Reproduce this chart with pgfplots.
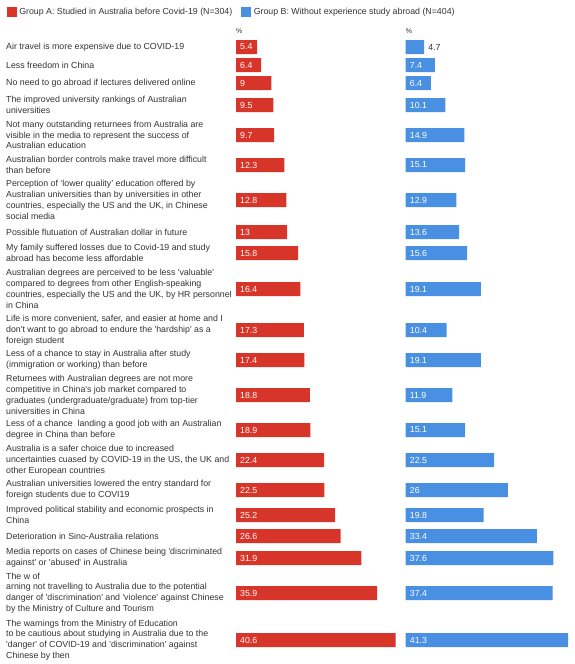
\documentclass[border=0pt]{standalone}
\usepackage{pgfplots}
\usepackage{pgfplotstable}
\pgfplotsset{compat=1.18}
\usepackage{fontspec}
\setmainfont{Liberation Sans}

\definecolor{redA}{HTML}{D7342A}
\definecolor{blueB}{HTML}{4A90E2}
\definecolor{txt}{HTML}{333333}
\newcommand{\q}{\textquotesingle}

% y = vertical position of each row (bp from the top), a = Group A (%), b = Group B (%)
\pgfplotstableread{
y    a     b
-47  5.4   4.7
-65  6.4   7.4
-83  9     6.4
-105 9.5   10.1
-135 9.7   14.9
-165 12.3  15.1
-200 12.8  12.9
-232 13    13.6
-253 15.8  15.6
-289 16.4  19.1
-330 17.3  10.4
-360 17.4  19.1
-395 18.8  11.9
-430 18.9  15.1
-460 22.4  22.5
-490 22.5  26
-515 25.2  19.8
-536 26.6  33.4
-558 31.9  37.6
-593 35.9  37.4
-640 40.6  41.3
}\datatab

\pgfplotsset{
  reasons/.style={
    scale only axis, height=664bp,
    ymin=-664, ymax=0, xmin=0,
    enlargelimits=false, clip=false,
    axis line style={draw=none}, major tick length=0pt,
    xtick=\empty,
    /pgf/number format/assume math mode=true,
    title={\%},
    title style={at={(axis description cs:0,1)}, anchor=west, yshift=-37bp,
      inner sep=0pt, font=\fontsize{7bp}{8bp}\selectfont, text=txt},
  },
  inbar/.style={draw=none, forget plot, nodes near coords, point meta=explicit,
    nodes near coords style={anchor=west, inner sep=0pt, xshift=4bp, text=white,
      font=\fontsize{8.8bp}{10bp}\selectfont}},
}

\begin{document}
\begin{tikzpicture}
\path[use as bounding box] (0,0) rectangle (575bp,-664bp);

% Group A
\begin{axis}[reasons,
  at={(236bp,0)}, anchor=north west,
  width=165.06bp, xmax=42,
  ytick=data,
  yticklabels={
    {Air travel is more expensive due to COVID-19},
    {Less freedom in China},
    {No need to go abroad if lectures delivered online},
    {The improved university rankings of Australian\\universities},
    {Not many outstanding returnees from Australia are\\visible in the media to represent the success of\\Australian education},
    {Australian border controls make travel more difficult\\than before},
    {Perception of ‘lower quality’ education offered by\\Australian universities than by universities in other\\countries, especially the US and the UK, in Chinese\\social media},
    {Possible flutuation of Australian dollar in future},
    {My family suffered losses due to Covid-19 and study\\abroad has become less affordable},
    {Australian degrees are perceived to be less \q valuable\q\\compared to degrees from other English-speaking\\countries, especially the US and the UK, by HR personnel\\in China},
    {Life is more convenient, safer, and easier at home and I\\don\q t want to go abroad to endure the \q hardship\q{} as a\\foreign student},
    {Less of a chance to stay in Australia after study\\(immigration or working) than before},
    {Returnees with Australian degrees are not more\\competitive in China\q s job market compared to\\graduates (undergraduate/graduate) from top-tier\\universities in China},
    {Less of a chance~ landing a good job with an Australian\\degree in China than before},
    {Australia is a safer choice due to increased\\uncertainties cuased by COVID-19 in the US, the UK and\\other European countries},
    {Australian universities lowered the entry standard for\\foreign students due to COVI19},
    {Improved political stability and economic prospects in\\China},
    {Deterioration in Sino-Australia relations},
    {Media reports on cases of Chinese being \q discriminated\\against\q{} or \q abused\q{} in Australia},
    {The w of\\arning not travelling to Australia due to the potential\\danger of \q discrimination\q{} and \q violence\q{} against Chinese\\by the Ministry of Culture and Tourism},
    {The warnings from the Ministry of Education\\to be cautious about studying in Australia due to the\\\q danger\q{} of COVID-19 and \q discrimination\q{} against\\Chinese by then},
  },
  yticklabel style={anchor=west, xshift=-230bp, align=left, inner sep=0pt,
    font=\fontsize{8.8bp}{10.8bp}\selectfont, text=txt},
  legend columns=2,
  legend style={at={(-1.3898,0.99209)}, anchor=north west, draw=none, fill=none,
    inner sep=0pt, font=\fontsize{8.8bp}{10bp}\selectfont, text=txt,
    nodes={inner sep=2.5bp},
    /tikz/every even column/.append style={column sep=6.5bp}},
  legend image code/.code={\fill (0bp,-5bp) rectangle (10bp,5bp);},
]
\addplot[xbar, bar shift=0pt, bar width=14bp, fill=redA, draw=none]
  table[x=a, y=y] {\datatab};
\addlegendentry{Group A: Studied in Australia before Covid-19 (N=304)}
\addlegendimage{fill=blueB, draw=none}
\addlegendentry{Group B: Without experience study abroad (N=404)}
\addplot[inbar] table[x expr=0, y=y, meta=a] {\datatab};
\end{axis}

% Group B
\begin{axis}[reasons,
  at={(405.7bp,0)}, anchor=north west,
  width=168.99bp, xmax=43,
  ytick=\empty,
]
\addplot[xbar, bar shift=0pt, bar width=14bp, fill=blueB, draw=none]
  table[x=b, y=y] {\datatab};
\addplot[inbar, restrict expr to domain={\thisrow{b}}{5:100}]
  table[x expr=0, y=y, meta=b] {\datatab};
\addplot[inbar, restrict expr to domain={\thisrow{b}}{0:5},
  nodes near coords style={text=txt}]
  table[x=b, y=y, meta=b] {\datatab};
\end{axis}
\end{tikzpicture}
\end{document}
